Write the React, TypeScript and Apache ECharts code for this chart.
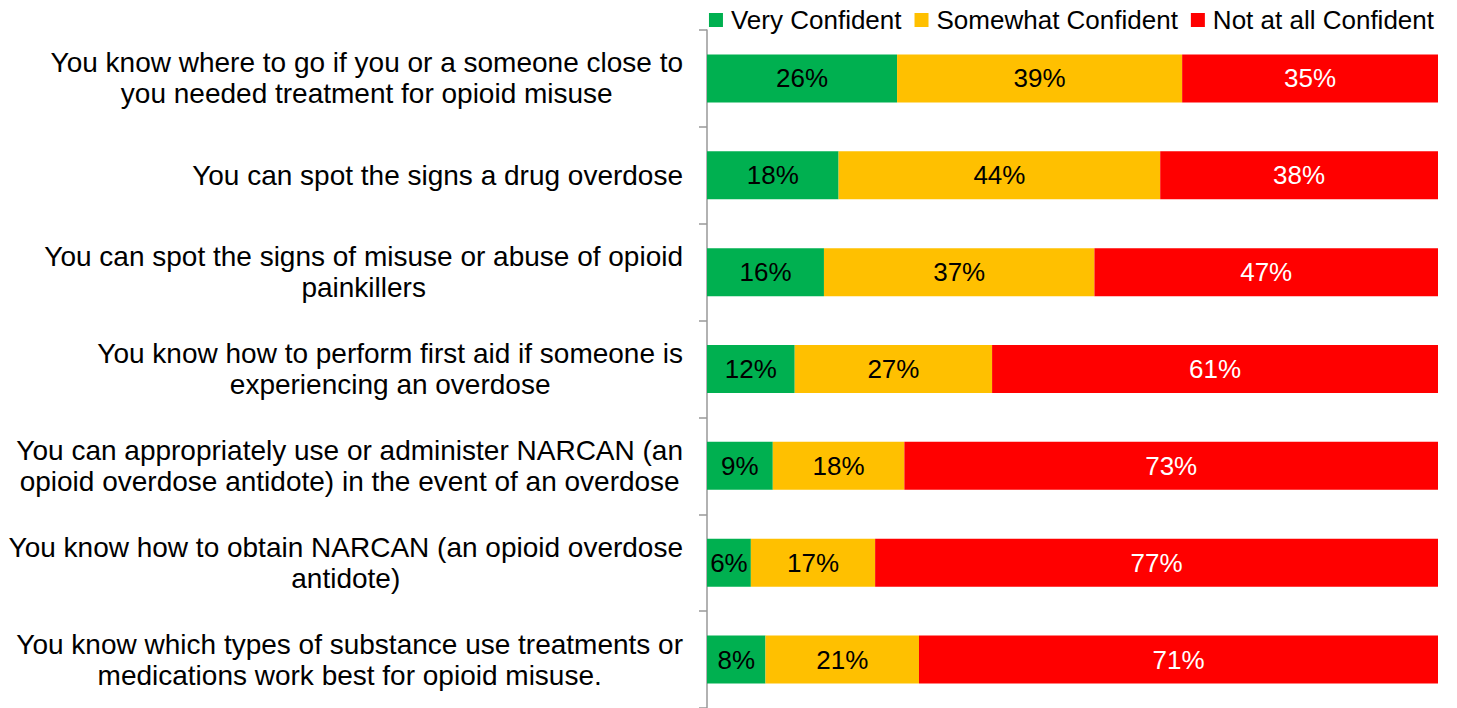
import React, { useEffect, useRef } from "react";
import * as echarts from "echarts";

const categories = [
  "You know where to go if you or a someone close to\nyou needed treatment for opioid misuse",
  "You can spot the signs a drug overdose",
  "You can spot the signs of misuse or abuse of opioid\npainkillers",
  "You know how to perform first aid if someone is\nexperiencing an overdose",
  "You can appropriately use or administer NARCAN (an\nopioid overdose antidote) in the event of an overdose",
  "You know how to obtain NARCAN (an opioid overdose\nantidote)",
  "You know which types of substance use treatments or\nmedications work best for opioid misuse.",
];
const seriesNames = ["Very Confident", "Somewhat Confident", "Not at all Confident"];
const veryConfident = [26, 18, 16, 12, 9, 6, 8];
const somewhatConfident = [39, 44, 37, 27, 18, 17, 21];
const notConfident = [35, 38, 47, 61, 73, 77, 71];
const colors = ["#00B050", "#FFC000", "#FF0000"];
const labelColors = ["#000000", "#000000", "#FFFFFF"];

const FONT_FAMILY = '"Liberation Sans", Arial, sans-serif';
const CAT_FONT_SIZE = 28;

function measure(text: string, size: number): number {
  const c = document.createElement("canvas").getContext("2d");
  if (!c) return text.length * size * 0.5;
  c.font = `${size}px ${FONT_FAMILY}`;
  return Math.max(...text.split("\n").map((l) => c.measureText(l).width));
}

export default function App() {
  const ref = useRef<HTMLDivElement>(null);
  useEffect(() => {
    if (!ref.current) return;
    const chart = echarts.init(ref.current, undefined, { renderer: "svg" });
    const values = [veryConfident, somewhatConfident, notConfident];
    const labelRight = 683;
    chart.setOption({
      animation: false,
      textStyle: { fontFamily: FONT_FAMILY },
      legend: {
        top: 2,
        right: 18,
        itemWidth: 14,
        itemHeight: 14,
        itemGap: 13,
        icon: "rect",
        textStyle: { fontSize: 26, color: "#000", padding: [0, 0, 0, 3] },
        data: seriesNames,
      },
      grid: { left: 707, right: 19, top: 30, bottom: -8, containLabel: false },
      xAxis: { type: "value", min: 0, max: 100, show: false },
      yAxis: {
        type: "category",
        inverse: true,
        data: categories,
        axisLine: { show: true, lineStyle: { color: "#999999", width: 1.5 } },
        axisTick: { show: true, length: 8, lineStyle: { color: "#999999", width: 1.5 } },
        axisLabel: { show: false },
        splitLine: { show: false },
      },
      series: seriesNames.map((name, i) => ({
        name,
        type: "bar",
        stack: "total",
        barWidth: 48,
        data: values[i],
        itemStyle: { color: colors[i] },
        label: {
          show: true,
          position: "inside",
          fontSize: 26,
          color: labelColors[i],
          formatter: "{c}%",
        },
      })),
    });
    const graphics = categories.map((cat, i) => {
      const y = chart.convertToPixel({ yAxisIndex: 0 }, i) as number;
      const w = measure(cat, CAT_FONT_SIZE);
      return {
        type: "text",
        x: labelRight - w / 2,
        y,
        style: {
          text: cat,
          fontSize: CAT_FONT_SIZE,
          fontFamily: FONT_FAMILY,
          fill: "#000",
          align: "center",
          verticalAlign: "middle",
          lineHeight: 31,
        },
      };
    });
    chart.setOption({ graphic: graphics });
    return () => chart.dispose();
  }, []);
  return (
    <div
      ref={ref}
      style={{ position: "absolute", left: 0, top: 0, width: 1457, height: 708, background: "#fff" }}
    />
  );
}
